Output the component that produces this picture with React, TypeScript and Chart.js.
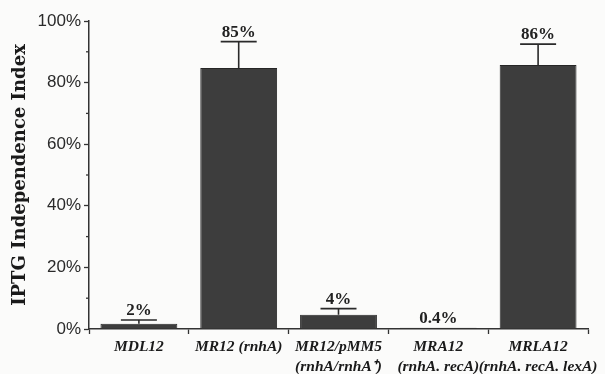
import React, { useEffect, useRef } from "react";
import { Chart, registerables } from "chart.js";

Chart.register(...registerables);

const categories: (string | string[])[] = [
  "MDL12",
  "MR12 (rnhA)",
  ["MR12/pMM5", "(rnhA/rnhA\u207A)"],
  ["MRA12", "(rnhA. recA)"],
  ["MRLA12", "(rnhA. recA. lexA)"],
];
const values = [1.7, 84.7, 4.6, 0.4, 85.7];
const errors = [1.2, 8.6, 2.0, 0, 6.8];
const valueLabels = ["2%", "85%", "4%", "0.4%", "86%"];
const yTicks = [0, 20, 40, 60, 80, 100];

const bgPlugin = {
  id: "bg",
  beforeDraw(chart: any) {
    const { ctx, width, height } = chart;
    ctx.save();
    ctx.fillStyle = "#fbfbfa";
    ctx.fillRect(0, 0, width, height);
    ctx.restore();
  },
};

const errPlugin = {
  id: "errbars",
  afterDatasetsDraw(chart: any) {
    const { ctx } = chart;
    const meta = chart.getDatasetMeta(0);
    const y = chart.scales.y;
    ctx.save();
    // minor ticks
    ctx.strokeStyle = "#333";
    ctx.lineWidth = 1.3;
    for (let v = 10; v < 100; v += 20) {
      const py = y.getPixelForValue(v);
      ctx.beginPath();
      ctx.moveTo(y.right - 3, py);
      ctx.lineTo(y.right, py);
      ctx.stroke();
    }
    meta.data.forEach((bar: any, i: number) => {
      const x = bar.x;
      const top = y.getPixelForValue(values[i]);
      const capY = y.getPixelForValue(values[i] + errors[i]);
      ctx.strokeStyle = "#2a2a2a";
      ctx.lineWidth = 1.6;
      if (errors[i] > 0) {
        ctx.beginPath();
        ctx.moveTo(x, top);
        ctx.lineTo(x, capY);
        ctx.moveTo(x - 18, capY);
        ctx.lineTo(x + 18, capY);
        ctx.stroke();
      }
      ctx.fillStyle = "#222";
      ctx.font = 'bold 17px "Liberation Serif", serif';
      ctx.textAlign = "center";
      ctx.textBaseline = "alphabetic";
      ctx.fillText(valueLabels[i], x, capY - 5);
    });
    ctx.restore();
  },
};

export default function App() {
  const ref = useRef<HTMLCanvasElement | null>(null);
  useEffect(() => {
    if (!ref.current) return;
    const chart = new Chart(ref.current, {
      type: "bar",
      data: {
        labels: categories as any,
        datasets: [
          {
            data: values,
            backgroundColor: "#3d3d3d",
            borderColor: "#262626",
            borderWidth: 1,
            barPercentage: 0.77,
            categoryPercentage: 1,
          },
        ],
      },
      options: {
        animation: false,
        responsive: true,
        maintainAspectRatio: false,
        layout: { padding: { top: 21, right: 17, left: 0, bottom: 0 } },
        plugins: { legend: { display: false }, tooltip: { enabled: false } },
        scales: {
          x: {
            grid: {
              display: true,
              drawOnChartArea: false,
              drawTicks: true,
              tickLength: 5,
              tickColor: "#333",
              tickWidth: 1.3,
              offset: true,
            },
            border: { display: true, color: "#333", width: 1.5 },
            ticks: {
              color: "#1a1a1a",
              padding: 3,
              maxRotation: 0,
              autoSkip: false,
              font: { family: '"Liberation Serif", serif', size: 15.5, style: "italic", weight: "bold", lineHeight: 1.3 },
            },
            afterFit: (s: any) => {
              s.height = 45;
            },
          },
          y: {
            min: 0,
            max: 100,
            grid: {
              display: true,
              drawOnChartArea: false,
              drawTicks: true,
              tickLength: 5,
              tickColor: (c: any) => (c.tick && yTicks.includes(c.tick.value) ? "#333" : "rgba(0,0,0,0)"),
              tickWidth: 1.3,
            },
            border: { display: true, color: "#333", width: 1.5 },
            ticks: {
              stepSize: 10,
              color: "#2a2a2a",
              padding: 3,
              font: { family: '"Liberation Sans", Arial, sans-serif', size: 17 },
              callback: (v: any) => (yTicks.includes(Number(v)) ? `${v}%` : ""),
            },
            title: {
              display: true,
              text: "IPTG Independence Index",
              color: "#1a1a1a",
              font: { family: '"DejaVu Serif", serif', size: 18, weight: "bold" },
              padding: { top: 10, bottom: 0 },
            },
            afterFit: (s: any) => {
              s.width = 89;
            },
          },
        },
      },
      plugins: [bgPlugin, errPlugin],
    });
    return () => chart.destroy();
  }, []);
  return (
    <div style={{ position: "fixed", left: 0, top: 0, width: 605, height: 374, background: "#fbfbfa" }}>
      <canvas ref={ref} />
    </div>
  );
}
